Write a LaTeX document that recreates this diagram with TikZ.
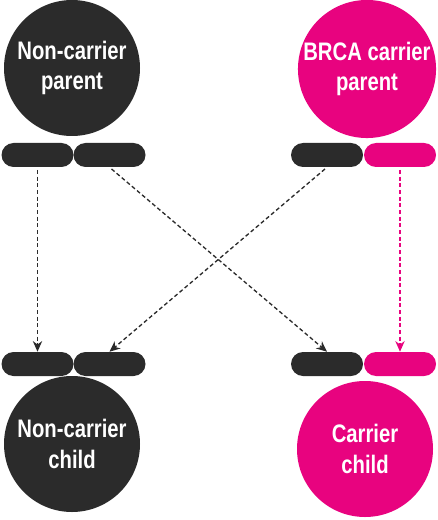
\documentclass[tikz,border=0pt]{standalone}
\usepackage{fontspec}
\setmainfont{Liberation Sans}[FakeStretch=0.8]
\usetikzlibrary{arrows.meta}
\definecolor{dark}{HTML}{2B2B2B}
\definecolor{brca}{HTML}{E8037F}
\tikzset{
  person/.style={circle, minimum size=102pt, inner sep=0pt, text=white,
    font=\bfseries\fontsize{19}{23}\selectfont, align=center},
  chrom/.style={rounded rectangle, minimum width=54pt, minimum height=18pt, inner sep=0pt},
  inherit/.style={dash pattern=on 3pt off 2pt, line width=1pt, -{Stealth[length=8pt,width=7pt]}, shorten <=2pt}
}
\usetikzlibrary{shapes.misc}
\begin{document}
\begin{tikzpicture}[x=0.75pt,y=-0.75pt]
\useasboundingbox (0,0) rectangle (438,520);

% parents:
\node[person, fill=dark] (pa) at (72,68) {Non-carrier\\parent};
\node[person, fill=brca] (pb) at (367,69) {BRCA carrier\\parent};

% parent chromosomes:
\node[chrom, fill=dark] (pa1) at (37.5,155) {};
\node[chrom, fill=dark] (pa2) at (109.5,155) {};
\node[chrom, fill=dark] (pb1) at (327,155) {};
\node[chrom, fill=brca] (pb2) at (400,155) {};

% child chromosomes:
\node[chrom, fill=dark] (ca1) at (37.5,364) {};
\node[chrom, fill=dark] (ca2) at (109.5,364) {};
\node[chrom, fill=dark] (cb1) at (327,364) {};
\node[chrom, fill=brca] (cb2) at (400,364) {};

% children:
\node[person, fill=dark] (ca) at (72,444) {Non-carrier\\child};
\node[person, fill=brca] (cb) at (365,449) {Carrier\\child};

% inheritance:
\draw[inherit, dark] (pa1.south) -- (ca1.north);
\draw[inherit, dark] (pa2.south) -- (cb1.north);
\draw[inherit, dark] (pb1.south) -- (ca2.north);
\draw[inherit, brca] (pb2.south) -- (cb2.north);
\end{tikzpicture}
\end{document}
